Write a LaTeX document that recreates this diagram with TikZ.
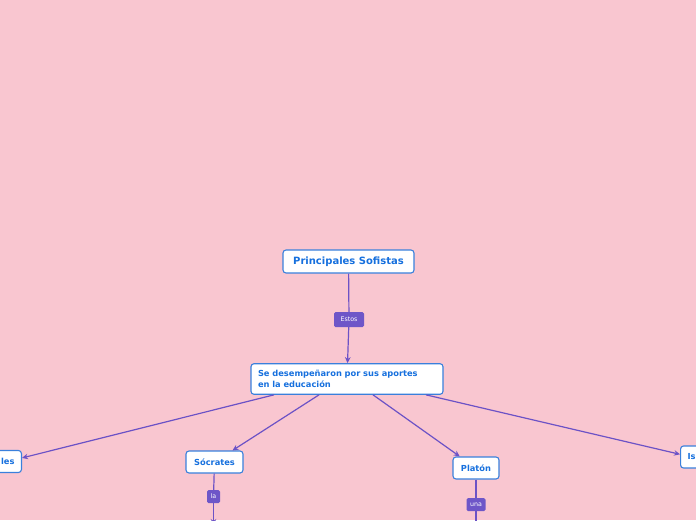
\documentclass[tikz,border=0pt]{standalone}
\usepackage{fontspec}
\setmainfont{DejaVu Sans}
\usetikzlibrary{arrows.meta,calc}
\definecolor{bgpink}{RGB}{249,198,208}
\definecolor{boxtext}{RGB}{22,112,222}
\definecolor{boxborder}{RGB}{58,128,220}
\definecolor{conn}{RGB}{108,82,198}
\definecolor{lblfill}{RGB}{110,86,200}
\tikzset{
  topic/.style={draw=boxborder, line width=1.1pt, fill=white, rounded corners=3pt,
    text=boxtext, font=\bfseries\fontsize{8.3}{10}\selectfont, inner xsep=7pt,
    minimum height=22pt},
  lbl/.style={fill=lblfill, rounded corners=1.5pt, text=white,
    font=\fontsize{6.3}{7}\selectfont, inner xsep=3pt, minimum height=14pt},
  conline/.style={draw=conn, line width=1.2pt},
  conarrow/.style={conline, -{Stealth[length=6pt,width=5.5pt]}}
}
\begin{document}
\begin{tikzpicture}[x=1pt,y=-1pt]
\useasboundingbox (0,0) rectangle (696,520);
\fill[bgpink] (0,0) rectangle (696,520);
\clip (0,0) rectangle (696,520);
\node[topic, font=\bfseries\fontsize{10}{12}\selectfont, minimum height=23pt, minimum width=131pt] (title) at (348.5,261.5) {Principales Sofistas};
\node[lbl, minimum width=30pt, minimum height=15pt] (estos) at (349,319.5) {Estos};
\node[topic, text width=178pt, align=left, inner ysep=6.5pt, font=\bfseries\fontsize{8.3}{11}\selectfont] (main) at (347,379) {Se desempeñaron por sus aportes\\en la educación};
\node[topic, anchor=east] (les) at (22,461.5) {les};
\node[topic, minimum width=57pt] (soc) at (214.5,462) {Sócrates};
\node[topic, minimum width=46pt] (pla) at (476,468) {Platón};
\node[topic, anchor=west] (iso) at (680,457) {Is};
\node[lbl, minimum width=13pt, minimum height=13pt, inner xsep=2pt] (la) at (213.5,496.5) {la};
\node[lbl, minimum width=19pt, minimum height=13pt, inner xsep=2pt] (una) at (476,504.5) {una};
\coordinate (o1) at ($(main.south)+(-73,0)$);
\coordinate (o2) at ($(main.south)+(-28,0)$);
\coordinate (o3) at ($(main.south)+(26,0)$);
\coordinate (o4) at ($(main.south)+(79,0)$);
\coordinate (laend) at (213.5,525);
\coordinate (unaend) at (476,545);
\draw[conline] (title) -- (estos);
\draw[conarrow] (estos) -- (main);
\draw[conarrow] (o1) -- (les);
\draw[conarrow] (o2) -- (soc);
\draw[conarrow] (o3) -- (pla);
\draw[conarrow] (o4) -- (iso);
\draw[conline] (soc) -- (la);
\draw[conarrow] (la) -- (laend);
\draw[conline] (pla) -- (una);
\draw[conarrow] (una) -- (unaend);
\end{tikzpicture}
\end{document}
